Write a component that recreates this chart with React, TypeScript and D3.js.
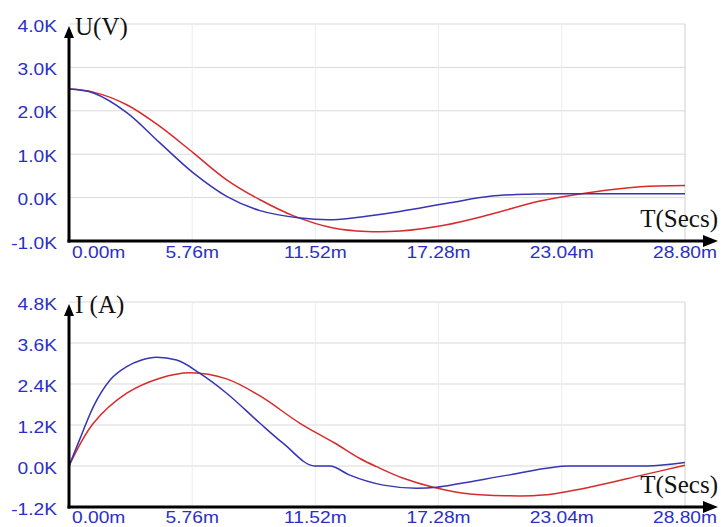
import React from "react";
import * as d3 from "d3";

const xTicks = [0, 5.76, 11.52, 17.28, 23.04, 28.8];
const xTickLabels = ["0.00m", "5.76m", "11.52m", "17.28m", "23.04m", "28.80m"];

const uTicks = [-1, 0, 1, 2, 3, 4];
const uTickLabels = ["-1.0K", "0.0K", "1.0K", "2.0K", "3.0K", "4.0K"];
const iTicks = [-1.2, 0, 1.2, 2.4, 3.6, 4.8];
const iTickLabels = ["-1.2K", "0.0K", "1.2K", "2.4K", "3.6K", "4.8K"];

// U(V) in kV, time in ms
const uBlueT = [0, 1.14, 2.7, 4.25, 5.81, 7.37, 8.93, 10.8, 12.35, 13.9, 15.47, 17.8, 19.68, 21.5, 23.58, 28.8];
const uBlueV = [2.5, 2.41, 1.96, 1.26, 0.57, 0.03, -0.3, -0.47, -0.51, -0.43, -0.32, -0.12, 0.03, 0.08, 0.09, 0.09];
const uRedT = [0, 1.14, 2.7, 4.25, 5.81, 7.37, 8.93, 10.5, 12.36, 13.92, 15.47, 17.6, 19.68, 22.02, 24.36, 26.7, 28.8];
const uRedV = [2.5, 2.43, 2.14, 1.64, 1.03, 0.41, -0.05, -0.42, -0.7, -0.78, -0.77, -0.63, -0.39, -0.08, 0.12, 0.25, 0.28];

// I(A) in kA
const iBlueT = [0, 0.5, 1.14, 1.92, 2.7, 3.4, 4.1, 5.03, 6.12, 7.37, 8.93, 10.02, 11.5, 12.2, 13.1, 14.7, 16.25, 17.19, 18.28, 20.6, 23.4, 27.0, 28.8];
const iBlueV = [0, 0.78, 1.74, 2.52, 2.91, 3.1, 3.18, 3.1, 2.71, 2.13, 1.25, 0.66, 0.0, 0.0, -0.26, -0.56, -0.65, -0.62, -0.51, -0.26, 0.0, 0.0, 0.1];
const iRedT = [0, 1.14, 2.7, 4.25, 5.66, 7.37, 8.93, 10.8, 12.4, 13.6, 14.38, 15.63, 17.03, 18.75, 20.4, 22.17, 24.5, 26.85, 28.8];
const iRedV = [0, 1.25, 2.13, 2.57, 2.73, 2.55, 2.05, 1.25, 0.68, 0.22, -0.02, -0.36, -0.62, -0.82, -0.87, -0.85, -0.6, -0.26, 0.02];

const BLUE = "#3535b5";
const RED = "#d82a2a";
const LABEL = "#2b2fc6";

type PanelProps = {
  top: number;
  bottom: number;
  ticks: number[];
  tickLabels: string[];
  yLabel: string;
  blueT: number[];
  blueV: number[];
  redT: number[];
  redV: number[];
  blueMonotone: boolean;
  xLabelDy: number;
};

const X0 = 69;
const X1 = 685;

function Panel(p: PanelProps) {
  const x = d3.scaleLinear().domain([0, 28.8]).range([X0, X1]);
  const y = d3
    .scaleLinear()
    .domain([p.ticks[0], p.ticks[p.ticks.length - 1]])
    .range([p.bottom, p.top]);
  const mk = (c: d3.CurveFactory) =>
    d3
      .line<[number, number]>()
      .x((d) => x(d[0]))
      .y((d) => y(d[1]))
      .curve(c);
  const smooth = mk(d3.curveCatmullRom.alpha(0.5));
  const mono = mk(d3.curveMonotoneX);
  const blue = p.blueT.map((t, i) => [t, p.blueV[i]] as [number, number]);
  const red = p.redT.map((t, i) => [t, p.redV[i]] as [number, number]);
  const axisY = p.bottom;
  return (
    <g>
      {p.ticks.slice(1).map((v) => (
        <line key={"h" + v} x1={X0} x2={X1} y1={y(v)} y2={y(v)} stroke="#d9d9d9" strokeWidth={1} />
      ))}
      {xTicks.slice(1, -1).map((t) => (
        <line key={"v" + t} x1={x(t)} x2={x(t)} y1={p.top} y2={axisY} stroke="#ececec" strokeWidth={1} />
      ))}
      <line x1={X1} x2={X1} y1={p.top} y2={axisY} stroke="#cfcfcf" strokeWidth={1} />
      <path d={smooth(red) || ""} fill="none" stroke={RED} strokeWidth={1.5} />
      <path d={(p.blueMonotone ? mono(blue) : smooth(blue)) || ""} fill="none" stroke={BLUE} strokeWidth={1.5} />
      <line x1={X0} x2={X0} y1={axisY + 1.5} y2={p.top + 12} stroke="#000" strokeWidth={3} />
      <path d={`M${X0 - 5},${p.top + 14} L${X0 + 5},${p.top + 14} L${X0},${p.top + 2} Z`} fill="#000" />
      <line x1={X0 - 1.5} x2={705} y1={axisY} y2={axisY} stroke="#000" strokeWidth={3} />
      <path d={`M703,${axisY - 6} L703,${axisY + 6} L718,${axisY} Z`} fill="#000" />
      {p.ticks.map((v, i) => (
        <text
          key={"yl" + v}
          transform={`translate(57,${y(v) + 7.5}) scale(1.2,1)`}
          textAnchor="end"
          fontFamily="'Liberation Sans', Arial, sans-serif"
          fontSize={16}
          fill={LABEL}
        >
          {p.tickLabels[i]}
        </text>
      ))}
      {xTicks.map((t, i) => (
        <text
          key={"xl" + t}
          transform={`translate(${i === 0 ? 72 : x(t)},${axisY + p.xLabelDy}) scale(1.2,1)`}
          textAnchor={i === 0 ? "start" : "middle"}
          fontFamily="'Liberation Sans', Arial, sans-serif"
          fontSize={16}
          fill={LABEL}
        >
          {xTickLabels[i]}
        </text>
      ))}
      <text x={75} y={p.top + 11} fontFamily="'Liberation Serif', 'Times New Roman', serif" fontSize={25} fill="#111">
        {p.yLabel}
      </text>
      <text x={718} y={axisY - 14} textAnchor="end" fontFamily="'Liberation Serif', 'Times New Roman', serif" fontSize={25} fill="#111">
        T(Secs)
      </text>
    </g>
  );
}

export default function App() {
  return (
    <svg
      width={721}
      height={527}
      style={{ position: "absolute", left: 0, top: 0, background: "#fff" }}
    >
      <rect width={721} height={527} fill="#fff" />
      <Panel
        top={24}
        bottom={241}
        ticks={uTicks}
        tickLabels={uTickLabels}
        yLabel="U(V)"
        blueT={uBlueT}
        blueV={uBlueV}
        redT={uRedT}
        redV={uRedV}
        blueMonotone={false}
        xLabelDy={17}
      />
      <Panel
        top={302}
        bottom={507}
        ticks={iTicks}
        tickLabels={iTickLabels}
        yLabel="I (A)"
        blueT={iBlueT}
        blueV={iBlueV}
        redT={iRedT}
        redV={iRedV}
        blueMonotone={true}
        xLabelDy={16}
      />
    </svg>
  );
}
